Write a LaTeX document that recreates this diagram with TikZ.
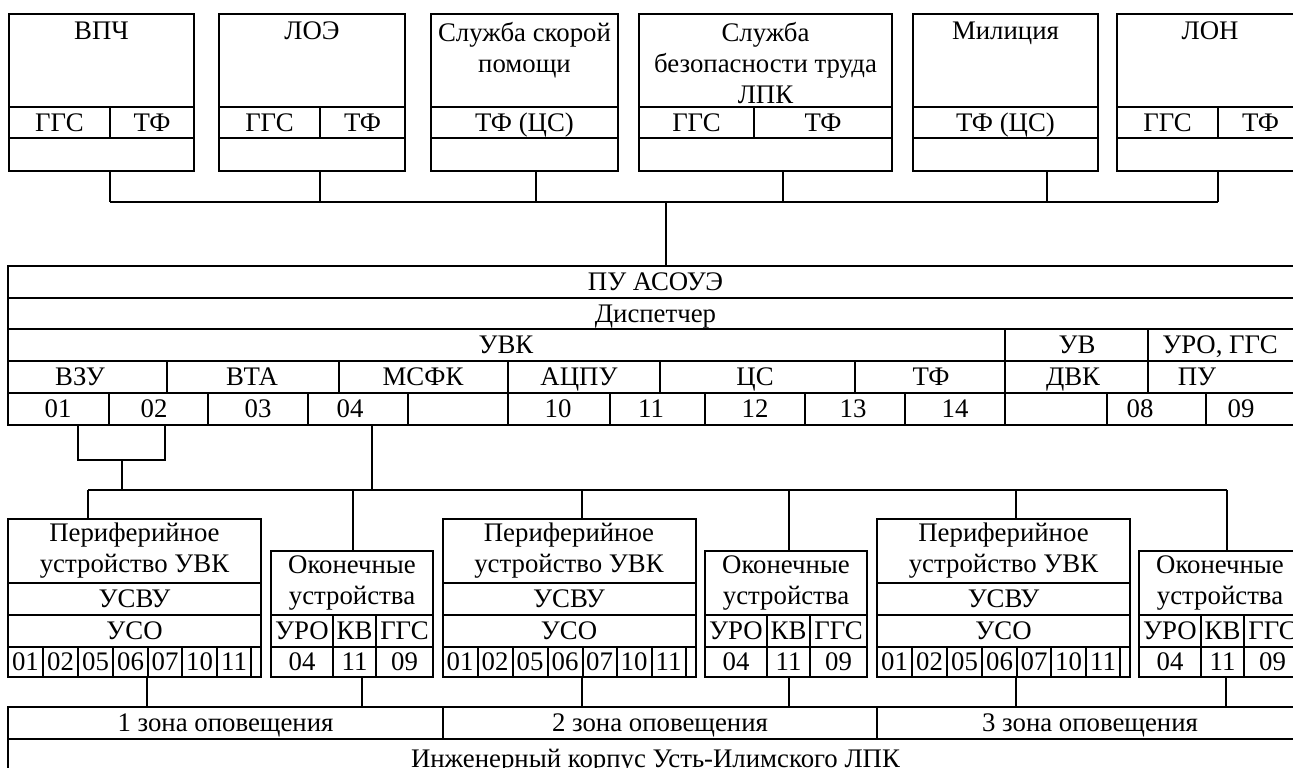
\documentclass[tikz,border=0pt]{standalone}
\usepackage{fontspec}
\setmainfont{Liberation Serif}
\usetikzlibrary{positioning}

\tikzset{
  cellbox/.style={draw, rectangle, inner sep=0pt, align=center,
    text height=11pt, text depth=2.3pt},
  multi/.style={text height=, text depth=},
  celltext/.style={inner sep=0pt, text height=11pt, text depth=2.3pt},
  title/.style={inner sep=1pt, align=center},
}
% cell: [options]{name}{x1}{y1}{x2}{y2}{text}, corners in pixels
\newcommand\tcell[7][]{%
  \node[cellbox, #1, minimum width={(#5-(#3))*0.5pt}, minimum height={(#6-(#4))*0.5pt}]
    (#2) at ({(#3+#5)/2},{(#4+#6)/2}) {#7};}

\begin{document}
\begin{tikzpicture}[x=0.5pt, y=-0.5pt, line width=1pt,
    every node/.style={font=\fontsize{13.4}{15.5}\selectfont}]
\useasboundingbox (0,0) rectangle (1293,767);
\clip (0,0) rectangle (1293,767);
\fill[white] (0,0) rectangle (1293,767);

% services
\tcell{vpch}{9}{14}{194}{107}{}
\tcell{vpch-a}{9}{107}{110}{138}{ГГС}
\tcell{vpch-b}{110}{107}{194}{138}{ТФ}
\tcell{vpch-e}{9}{138}{194}{171}{}
\tcell{loe}{219}{14}{405}{107}{}
\tcell{loe-a}{219}{107}{320}{138}{ГГС}
\tcell{loe-b}{320}{107}{405}{138}{ТФ}
\tcell{loe-e}{219}{138}{405}{171}{}
\tcell{skor}{431}{14}{618}{107}{}
\tcell{skor-a}{431}{107}{618}{138}{ТФ (ЦС)}
\tcell{skor-e}{431}{138}{618}{171}{}
\tcell{bezop}{639}{14}{892}{107}{}
\tcell{bezop-a}{639}{107}{754}{138}{ГГС}
\tcell{bezop-b}{754}{107}{892}{138}{ТФ}
\tcell{bezop-e}{639}{138}{892}{171}{}
\tcell{milic}{913}{14}{1098}{107}{}
\tcell{milic-a}{913}{107}{1098}{138}{ТФ (ЦС)}
\tcell{milic-e}{913}{138}{1098}{171}{}
\tcell{lon}{1117}{14}{1303}{107}{}
\tcell{lon-a}{1117}{107}{1218}{138}{ГГС}
\tcell{lon-b}{1218}{107}{1303}{138}{ТФ}
\tcell{lon-e}{1117}{138}{1303}{171}{}
\foreach \nm/\txt in {vpch/ВПЧ, loe/ЛОЭ, skor/{Служба скорой\\помощи},
    bezop/{Служба\\безопасности труда\\ЛПК}, milic/Милиция, lon/ЛОН}
  \node[title, below=3pt of \nm.north] (\nm-n) {\txt};

% bus to the control room
\foreach \t/\x in {t1/110, t2/320, t3/536, t4/783, t5/1047, t6/1218}
  \coordinate (\t) at (\x,202);
\coordinate (m) at (666,202);
\draw (t1) -- (t6);
\foreach \nm/\t in {vpch/t1, loe/t2, skor/t3, bezop/t4, milic/t5, lon/t6}
  \draw (\t |- \nm-e.south) -- (\t);

% control room
\tcell{pu}{8}{266}{1303}{298}{ПУ АСОУЭ}
\tcell{disp}{8}{298}{1303}{329}{Диспетчер}
\foreach \nm/\xa/\xb/\tx/\txt in {uvk/8/1005/506/УВК, uv/1005/1148/1077/УВ,
    uro/1148/1303/1220/{УРО, ГГС}} {
  \tcell{\nm}{\xa}{329}{\xb}{361}{}
  \node[celltext] (\nm-t) at (\tx,345) {\txt};
}
\foreach \nm/\xa/\xb/\tx/\txt in {vzu/8/167/80/ВЗУ, vta/167/339/252/ВТА,
    msfk/339/508/423/МСФК, acpu/508/660/579/АЦПУ, cs/660/855/755/ЦС,
    tf/855/1005/931/ТФ, dvk/1005/1148/1073/ДВК, pup/1148/1303/1197/ПУ} {
  \tcell{\nm}{\xa}{361}{\xb}{393}{}
  \node[celltext] (\nm-t) at (\tx,377) {\txt};
}
\foreach \nm/\xa/\xb/\tx/\txt in {n01/8/109/58/01, n02/109/208/154/02,
    n03/208/308/258/03, n04/308/408/350/04, n05/408/508/458/{},
    n10/508/610/558/10, n11/610/705/651/11, n12/705/805/755/12,
    n13/805/905/853/13, n14/905/1005/955/14, n15/1005/1107/1056/{},
    n08/1107/1206/1140/08, n09/1206/1303/1241/09} {
  \tcell{\nm}{\xa}{393}{\xb}{425}{}
  \node[celltext] (\nm-t) at (\tx,409) {\txt};
}
\draw (m) -- (m |- pu.north);

% alert zones
\tcell{z1}{8}{707}{443}{739}{1 зона оповещения}
\tcell{z2}{443}{707}{877}{739}{2 зона оповещения}
\tcell{z3}{877}{707}{1303}{739}{3 зона оповещения}
\tcell{korp}{8}{739}{1303}{779}{Инженерный корпус Усть-Илимского ЛПК}

% peripheral devices and terminals
\foreach \i/\xp/\xo/\xq/\xr in {0/88/353/147/362, 1/582/789/582/789, 2/1016/1227/1016/1226} {
  \pgfmathsetmacro\xl{8+434.5*\i}
  \pgfmathsetmacro\xk{271+434*\i}
  \tcell[multi]{p\i}{\xl}{519}{\xl+253}{583}{Периферийное\\устройство УВК}
  \tcell{p\i-s}{\xl}{583}{\xl+253}{615}{УСВУ}
  \tcell{p\i-o}{\xl}{615}{\xl+253}{647}{УСО}
  \foreach \a/\b/\txt [count=\j] in {0/35/01, 35/70/02, 70/105/05, 105/140/06,
      140/174/07, 174/209/10, 209/243/11, 243/253/{}} {
    \tcell{p\i-\j}{\xl+\a}{647}{\xl+\b}{677}{\txt}
  }
  \tcell[multi]{o\i}{\xk}{551}{\xk+162}{615}{Оконечные\\устройства}
  \foreach \a/\b/\txt/\nn [count=\j] in {0/62/УРО/04, 62/105/КВ/11, 105/162/ГГС/09} {
    \tcell{o\i-a\j}{\xk+\a}{615}{\xk+\b}{647}{\txt}
    \tcell{o\i-n\j}{\xk+\a}{647}{\xk+\b}{677}{\nn}
  }
  \coordinate (pt\i) at (\xp,490);
  \coordinate (ot\i) at (\xo,490);
  \coordinate (pb\i) at (\xq,0);
  \coordinate (ob\i) at (\xr,0);
  \draw (pt\i) -- (pt\i |- p\i.north);
  \draw (ot\i) -- (ot\i |- o\i.north);
  \draw (pb\i |- p\i-1.south) -- (pb\i |- z1.north);
  \draw (ob\i |- o\i-n1.south) -- (ob\i |- z1.north);
}
\draw (pt0) -- (ot2);

% links from the table
\coordinate (b1) at (78,460);
\coordinate (b2) at (165,460);
\coordinate (bc) at (122,460);
\coordinate (c4) at (372,490);
\draw (b1 |- n01.south) -- (b1) -- (b2) -- (b2 |- n02.south);
\draw (bc) -- (bc |- c4);
\draw (c4 |- n04.south) -- (c4);
\end{tikzpicture}
\end{document}
